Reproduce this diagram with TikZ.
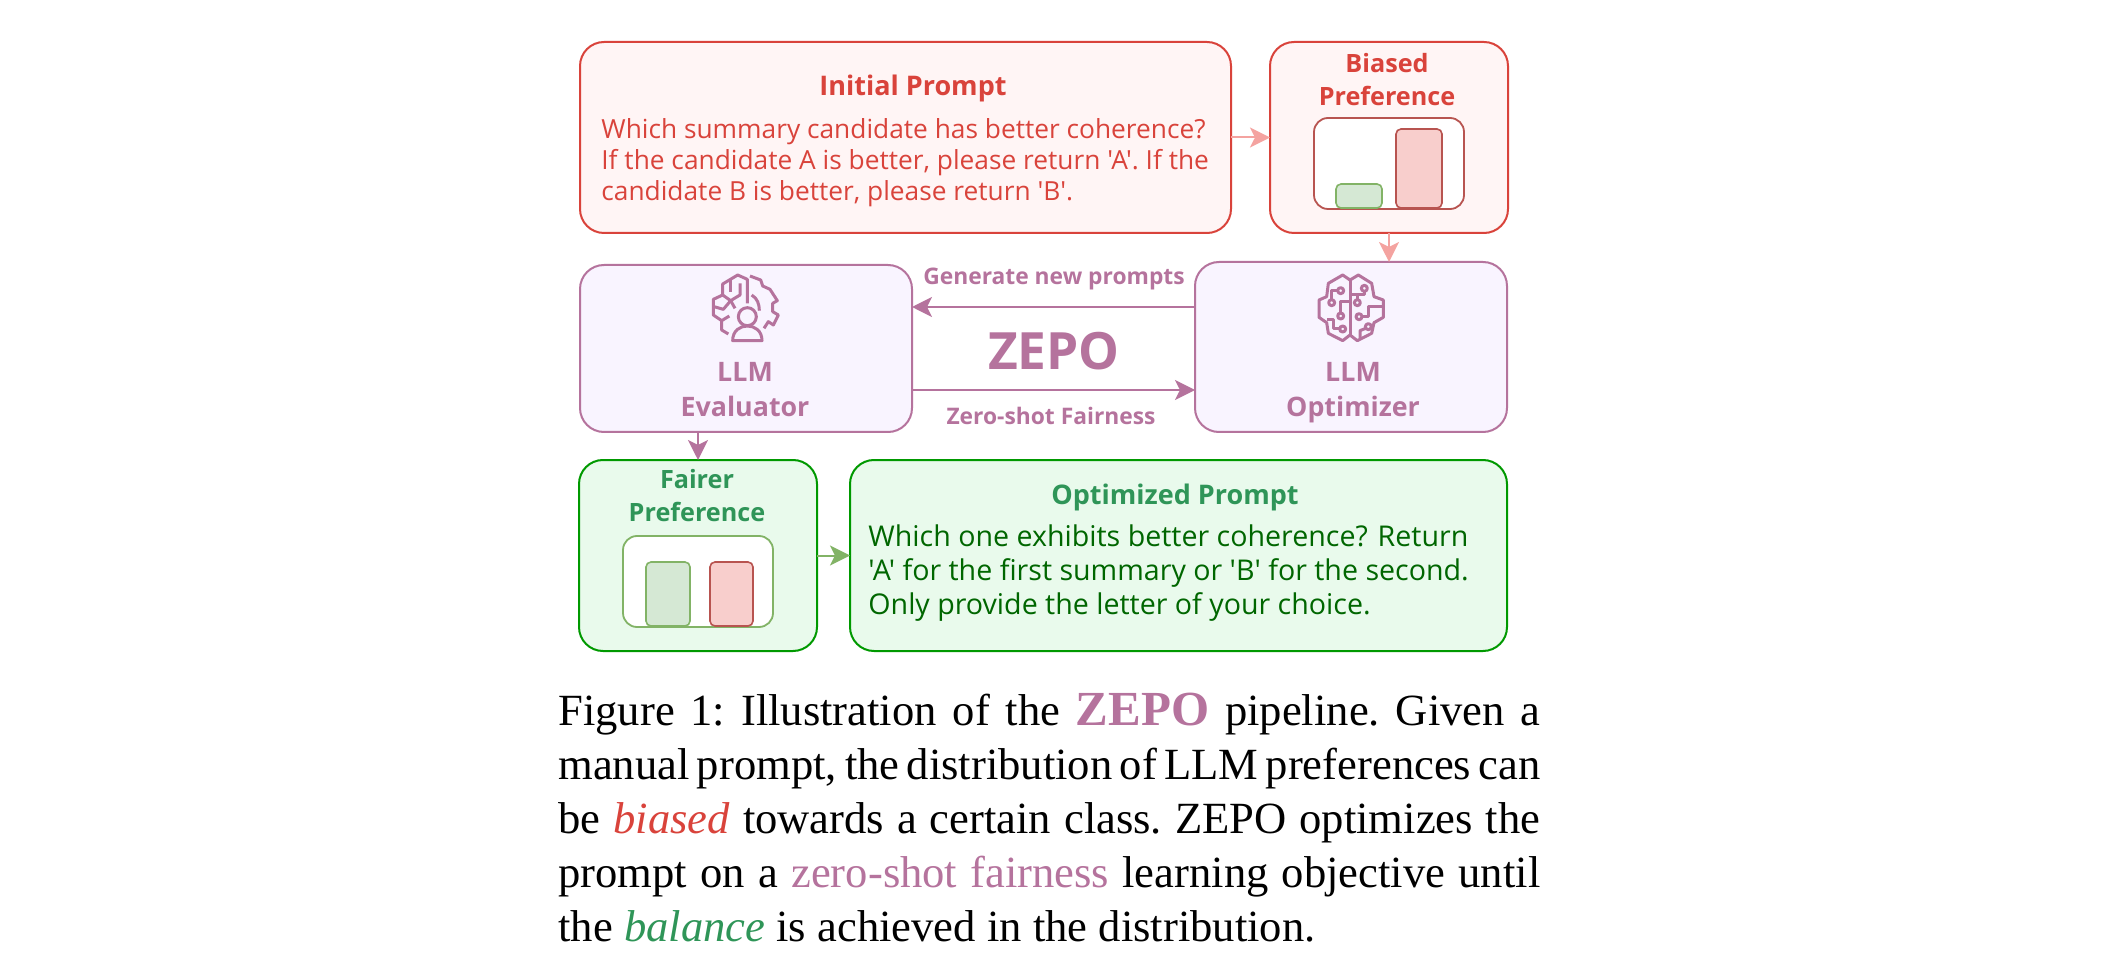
\documentclass[tikz,border=0pt]{standalone}
\usepackage{fontspec}
\setmainfont{Liberation Serif}
\newfontfamily\diagfont{Open Sans}
\usetikzlibrary{arrows.meta}

\definecolor{redline}{HTML}{D9433B}
\definecolor{redfill}{HTML}{FFF5F5}
\definecolor{redarrow}{HTML}{F4A3A0}
\definecolor{purpleline}{HTML}{B5739D}
\definecolor{purplefill}{HTML}{F9F4FF}
\definecolor{greenline}{HTML}{009900}
\definecolor{greenfill}{HTML}{E9FAEC}
\definecolor{greentitle}{HTML}{2F9558}
\definecolor{greentext}{HTML}{006600}
\definecolor{greenbar}{HTML}{82B366}
\definecolor{greenbarfill}{HTML}{D5E8D4}
\definecolor{redbar}{HTML}{B85450}
\definecolor{redbarfill}{HTML}{F8CECC}

\tikzset{
  boxsize/.style 2 args={minimum width=#1*0.5pt, minimum height=#2*0.5pt},
  panel/.style={draw, line width=1pt, rounded corners=12pt, inner sep=0pt, outer sep=0pt},
  redpanel/.style={panel, draw=redline, fill=redfill},
  purplepanel/.style={panel, draw=purpleline, fill=purplefill},
  greenpanel/.style={panel, draw=greenline, fill=greenfill},
  chart/.style={draw, line width=0.9pt, fill=white, rounded corners=7pt, inner sep=0pt, outer sep=0pt},
  greenrect/.style={draw=greenbar, fill=greenbarfill, line width=0.8pt, rounded corners=2.5pt, inner sep=0pt},
  redrect/.style={draw=redbar, fill=redbarfill, line width=0.8pt, rounded corners=2.5pt, inner sep=0pt},
  heading/.style={font=\diagfont\bfseries\fontsize{12.6}{16.5}\selectfont, align=center, inner sep=0pt},
  bigheading/.style={font=\diagfont\bfseries\fontsize{13.5}{16.5}\selectfont, align=center, inner sep=0pt},
  arrowlabel/.style={font=\diagfont\bfseries\fontsize{11.4}{14}\selectfont, align=center, inner sep=0pt},
  bodytext/.style={font=\diagfont\fontsize{13.15}{15.5}\selectfont, align=left, inner sep=0pt},
  flow/.style={-{Stealth[length=10pt, width=10pt, inset=2.5pt]}, line width=1pt},
  icon/.style={draw=purpleline, line width=1.5pt, line join=round}
}

\begin{document}
\begin{tikzpicture}[x=0.5pt, y=-0.5pt]
  \useasboundingbox (0,0) rectangle (2109,978);

  % top row
  \node[redpanel, boxsize={651}{191}] (initial) at (905.5,137.5) {};
  \node[redpanel, boxsize={238}{191}] (biased) at (1389,137.5) {};
  \node[bigheading, text=redline] (initialtitle) at (913,88) {Initial Prompt};
  \node[bodytext, text=redline, anchor=west] (initialtext) at (601,162.5) {Which summary candidate has better coherence?\\If the candidate A is better, please return 'A'. If the\\candidate B is better, please return 'B'.};
  \node[heading, text=redline] (biasedtitle) at (1387,80) {Biased\\Preference};
  \node[chart, draw=redbar, boxsize={150}{91}] (biasedchart) at (1389,163.5) {};
  \node[greenrect, boxsize={46}{24}] (biasedlow) at (1359,196) {};
  \node[redrect, boxsize={46}{79}] (biasedhigh) at (1419,168.5) {};

  % middle row
  \node[purplepanel, boxsize={332}{167}] (evaluator) at (746,348.5) {};
  \node[purplepanel, boxsize={312}{170}] (optimizer) at (1351,347) {};
  \node[bigheading, text=purpleline, font=\diagfont\bfseries\fontsize{13.4}{17.5}\selectfont] (evaluatortitle) at (745,390) {LLM\\Evaluator};
  \node[bigheading, text=purpleline, font=\diagfont\bfseries\fontsize{13.4}{17.5}\selectfont] (optimizertitle) at (1353,392.5) {LLM\\Optimizer};
  \node[heading, text=purpleline, font=\diagfont\bfseries\fontsize{25.7}{30}\selectfont] (zepo) at (1054,351) {ZEPO};
  \node[arrowlabel, text=purpleline] (generate) at (1054,279) {Generate new prompts};
  \node[arrowlabel, text=purpleline] (fairness) at (1051,416) {Zero-shot Fairness};
  \coordinate (generatelevel) at (1050,307);
  \coordinate (fairnesslevel) at (1050,390);

  % bottom row
  \node[greenpanel, boxsize={238}{191}] (fairer) at (698,555.5) {};
  \node[greenpanel, boxsize={657}{191}] (optimized) at (1178.5,555.5) {};
  \node[heading, text=greentitle] (fairertitle) at (697,496) {Fairer\\Preference};
  \node[bigheading, text=greentitle] (optimizedtitle) at (1175,497) {Optimized Prompt};
  \node[bodytext, text=greentext, font=\diagfont\fontsize{14.3}{17}\selectfont, anchor=west] (optimizedtext) at (868,573.5) {Which one exhibits better coherence? Return\\'A' for the first summary or 'B' for the second.\\Only provide the letter of your choice.};
  \node[chart, draw=greenbar, boxsize={150}{91}] (fairerchart) at (698,581.5) {};
  \node[greenrect, boxsize={44}{64}] (fairerleft) at (668,594) {};
  \node[redrect, boxsize={43}{64}] (fairerright) at (731.5,594) {};

  % arrows
  \draw[flow, redarrow] (initial) -- (biased);
  \draw[flow, redarrow] (biased.south) -- (biased.south |- optimizer.north);
  \draw[flow, purpleline] (optimizer.west |- generatelevel) -- (evaluator.east |- generatelevel);
  \draw[flow, purpleline] (evaluator.east |- fairnesslevel) -- (optimizer.west |- fairnesslevel);
  \draw[flow, purpleline] (evaluator.south -| fairer.north) -- (fairer.north);
  \draw[flow, greenbar] (fairer) -- (optimized);

  % evaluator icon
  \begin{scope}[shift={(690,260)}, scale=1/3]
    \draw[icon] (172,130) -- (172,58) -- (143,45) -- (98,72) -- (98,105) -- (70,118) -- (70,165) -- (95,182) -- (95,210) -- (115,222);
    \draw[icon] (150,70) -- (150,105) -- (122,122) -- (135,145);
    \draw[icon] (122,60) -- (122,95);
    \draw[icon] (98,105) -- (122,122) -- (100,148) -- (72,140);
    \draw[icon] (95,182) -- (118,168);
    \draw[icon] (180,48) -- (212,60) -- (218,78) -- (240,88) -- (262,122) -- (248,130) -- (248,155) -- (265,165) -- (250,195) -- (235,185) -- (222,205);
    \draw[icon] (185,105) .. controls (202,115) and (208,132) .. (208,152);
    \draw[icon] (172,170) circle[radius=27];
    \draw[icon] (128,242) .. controls (128,212) and (150,198) .. (172,198) .. controls (194,198) and (216,212) .. (216,242) -- cycle;
  \end{scope}

  % optimizer icon
  \begin{scope}[shift={(1300,260)}, scale=1/3]
    \draw[icon] (150,60) -- (128,45) -- (85,70) -- (80,110) -- (57,120) -- (57,172) -- (80,188) -- (85,220) -- (128,242) -- (150,225) -- (172,242) -- (215,220) -- (222,188) -- (250,172) -- (250,120) -- (222,110) -- (215,70) -- (175,45) -- cycle;
    \draw[icon] (150,60) -- (150,225);
    \foreach \cx/\cy in {122/92,95/128,122/168,128/207,193/85,172/128,177/170,205/200} {
      \draw[icon] (\cx,\cy) circle[radius=9];
    }
    \draw[icon] (113,92) -- (95,92) -- (95,119);
    \draw[icon] (122,159) -- (122,125) -- (150,125);
    \draw[icon] (119,207) -- (100,207) -- (100,178) -- (80,178);
    \draw[icon] (193,94) -- (193,105) -- (150,105);
    \draw[icon] (172,119) -- (172,105);
    \draw[icon] (186,170) -- (205,170) -- (205,140) -- (250,140);
    \draw[icon] (197,205) -- (180,212) -- (180,238);
  \end{scope}

  % caption
  \node[anchor=west, inner sep=0pt, text width=491pt, align=justify, font=\fontsize{22.3}{27}\selectfont] (caption) at (558,818) {\tolerance=9999\spaceskip=5.6pt plus 4pt minus 2.6pt\xspaceskip=\spaceskip Figure 1: Illustration of the \textcolor{purpleline}{\fontsize{24.5}{27}\selectfont\textbf{ZEPO}} pipeline. Given a\linebreak manual prompt, the distribution of LLM preferences can\linebreak be \textcolor{redline}{\textit{biased}} towards a certain class. ZEPO optimizes the\linebreak prompt on a \textcolor{purpleline}{zero-shot fairness} learning objective until\linebreak the \textcolor{greentitle}{\textit{balance}} is achieved in the distribution.};
\end{tikzpicture}
\end{document}
